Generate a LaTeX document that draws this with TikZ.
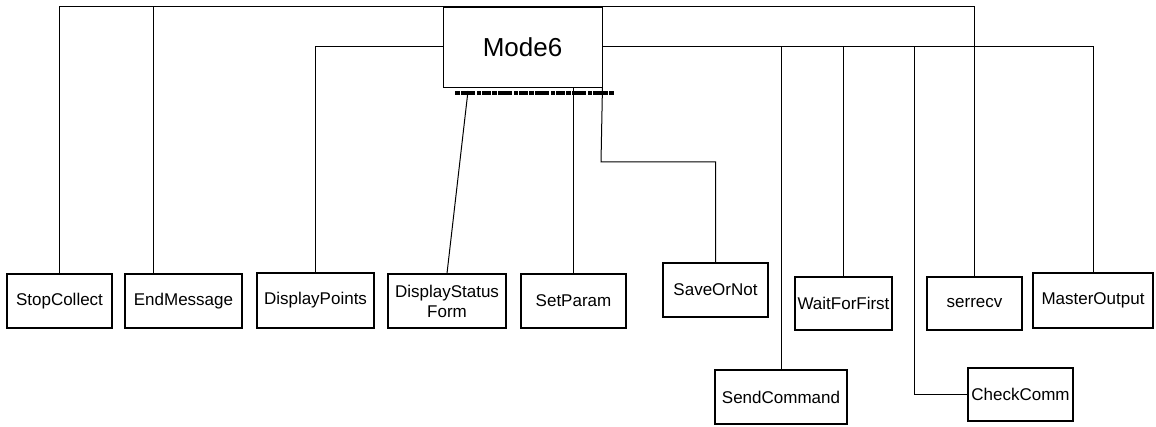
\documentclass[tikz,border=0pt]{standalone}
\usepackage{fontspec}
\setmainfont{Liberation Sans}
\begin{document}
\begin{tikzpicture}[x=1pt,y=-1pt,
  box/.style={draw, line width=1.3pt, inner sep=0pt, align=center, font=\fontsize{17}{20}\selectfont},
  topbox/.style={draw, line width=0.9pt, inner sep=0pt, font=\fontsize{26}{30}\selectfont},
  link/.style={line width=1pt}]
\useasboundingbox[fill=white] (0,0) rectangle (1156,427);
% main node
\node[topbox, minimum width=159pt, minimum height=80pt] (mode) at (522.5,47) {Mode6};
% child nodes
\node[box, minimum width=105pt, minimum height=54pt] (stop) at (59.5,301) {StopCollect};
\node[box, minimum width=117pt, minimum height=54pt] (endm) at (183.5,301) {EndMessage};
\node[box, minimum width=117pt, minimum height=55pt] (disp) at (315.5,300.5) {DisplayPoints};
\node[box, minimum width=118pt, minimum height=54pt] (dsf) at (447,301) {DisplayStatus\\Form};
\node[box, minimum width=105pt, minimum height=54pt] (setp) at (573.5,301) {SetParam};
\node[box, minimum width=105pt, minimum height=54pt] (save) at (715.5,290) {SaveOrNot};
\node[box, minimum width=132pt, minimum height=54pt] (sendc) at (781,397) {SendCommand};
\node[box, minimum width=97pt, minimum height=53pt] (wait) at (843.5,303.5) {WaitForFirst};
\node[box, minimum width=95pt, minimum height=53pt] (serr) at (974.5,303.5) {serrecv};
\node[box, minimum width=120pt, minimum height=55pt] (master) at (1093,300.5) {MasterOutput};
\node[box, minimum width=105pt, minimum height=53pt] (check) at (1020.5,394.5) {CheckComm};
% bend / bus coordinates
\coordinate (em) at (153,7);
\coordinate (ccb) at (914,47);
\coordinate (svk) at (601,162);
\coordinate (dsk) at (468,91);
% scanning smear under Mode6
\draw[line width=3.5pt, dash pattern=on 5pt off 1pt on 14pt off 2pt on 4pt off 1pt on 9pt off 1pt] (455,93) -- (614,93);
% top bus
\draw[link] (stop.north) |- (mode.north) -| (serr.north);
\draw[link] (endm.north -| em) -- (em);
% left bus
\draw[link] (disp.north) |- (mode.west);
% right bus
\draw[link] (mode.east) -| (master.north);
\draw[link] (sendc.north) -- (sendc.north |- mode.east);
\draw[link] (wait.north) -- (wait.north |- mode.east);
\draw[link] (check.west) -| (ccb);
% connectors below Mode6
\draw[link] (dsk) -- (dsf.north);
\draw[link] (setp.north) -- (setp.north |- mode.south);
\draw[link] (mode.south east) -- (svk) -| (save.north);
\end{tikzpicture}
\end{document}
